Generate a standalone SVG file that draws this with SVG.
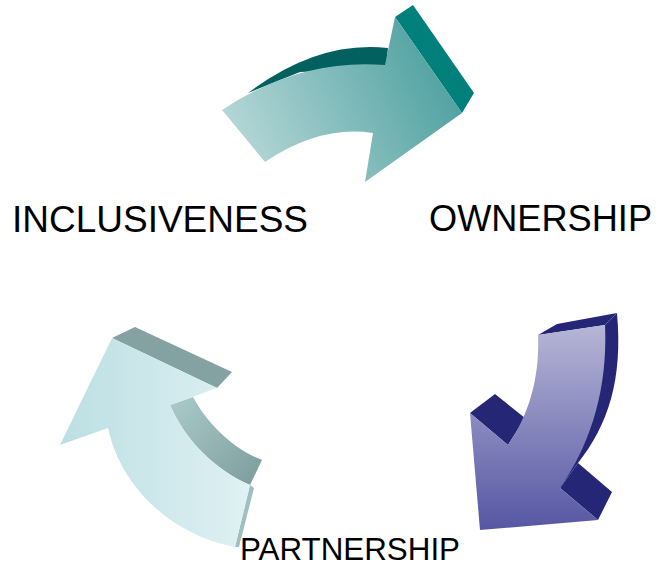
<svg xmlns="http://www.w3.org/2000/svg" width="660" height="567" viewBox="0 0 660 567">
<defs>
<linearGradient id="gTop" gradientUnits="userSpaceOnUse" x1="230" y1="165" x2="455" y2="55">
<stop offset="0" stop-color="#bcdada"/><stop offset="1" stop-color="#4a9e9e"/>
</linearGradient>
<linearGradient id="gRight" gradientUnits="userSpaceOnUse" x1="0" y1="325" x2="0" y2="530">
<stop offset="0" stop-color="#b6b6d6"/><stop offset="1" stop-color="#5656a4"/>
</linearGradient>
<linearGradient id="gLeft" gradientUnits="userSpaceOnUse" x1="60" y1="0" x2="250" y2="0">
<stop offset="0" stop-color="#bcdfe3"/><stop offset="1" stop-color="#dff1f3"/>
</linearGradient>
<linearGradient id="gLeftSide" gradientUnits="userSpaceOnUse" x1="175" y1="400" x2="262" y2="475">
<stop offset="0" stop-color="#a9c8c8"/><stop offset="1" stop-color="#7f9e9e"/>
</linearGradient>
</defs>
<style>
.lbl{font-family:"Liberation Sans",Arial,sans-serif;fill:#000}
.teal{fill:#007f7b}
.tealdk{fill:#02605e}
.navy{fill:#262676}
.grey{fill:#84a2a2}
</style>
<g id="arrow-top">
<path class="tealdk" d="M248,93 Q318,40 388,48 L386,68 L300,72 Z"/>
<path class="teal" d="M395,17 L413,5 L474,93 L462,113 Z"/>
<path fill="url(#gTop)" d="M222,110 Q300,58 385,65 L395,17 L462,113 L365,182 L373,133 Q320,125 265,162 Z"/>
</g>
<g id="arrow-right">
<path class="navy" d="M538,335 L557,324 L617,313 L605,325 Z"/>
<path class="navy" d="M605,325 L617,313 C623,380 608,425 578,463 L560,488 Z"/>
<path class="navy" d="M470,413 L495,394 L525,418 L508,445 Z"/>
<path class="navy" d="M578,463 L612,492 L598,520 L560,488 Z"/>
<path fill="url(#gRight)" d="M538,335 L605,325 C608,390 590,445 560,488 L598,520 L480,530 L470,413 L508,445 C525,420 540,385 538,335 Z"/>
</g>
<g id="arrow-left">
<path class="grey" d="M112,338 L135,327 L232,372 L217,388 Z"/>
<path fill="url(#gLeftSide)" d="M170,405 L193,397 C208,425 235,450 262,460 L250,485 C215,470 185,440 170,405 Z"/>
<path fill="#9fbfc3" d="M250,485 L254,488 L239,547 L235,547 Z"/>
<path fill="url(#gLeft)" d="M112,338 L217,388 L170,405 C185,440 215,470 250,485 L235,547 C170,535 120,485 108,428 L60,445 Z"/>
</g>
<g id="labels">
<text class="lbl" x="12" y="232" font-size="36" textLength="296" lengthAdjust="spacingAndGlyphs">INCLUSIVENESS</text>
<text class="lbl" x="429" y="231" font-size="36" textLength="223" lengthAdjust="spacingAndGlyphs">OWNERSHIP</text>
<text class="lbl" x="240" y="560" font-size="30.5" textLength="220" lengthAdjust="spacingAndGlyphs">PARTNERSHIP</text>
</g>
<g id="connectors"></g>
</svg>
